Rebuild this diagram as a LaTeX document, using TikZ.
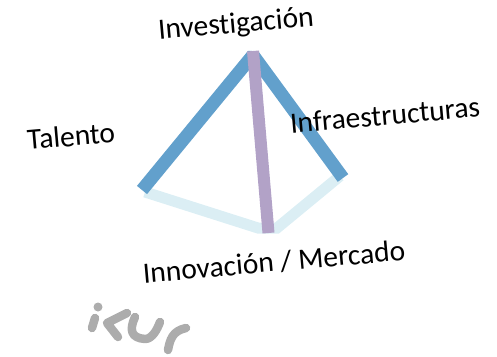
\documentclass[tikz,border=0pt]{standalone}
\usepackage{fontspec}
\setmainfont{Carlito}[Ligatures=NoCommon]
\tikzset{
  lbl/.style={font=\fontsize{29.5}{34}\selectfont,text=black,inner sep=0pt,anchor=center},
  bluebar/.style={line width=13pt,line join=bevel,draw={rgb,255:red,98;green,160;blue,204}},
  palebar/.style={line width=11pt,draw={rgb,255:red,219;green,238;blue,244},miter limit=10},
  purplebar/.style={line width=12pt,draw={rgb,255:red,178;green,162;blue,199}},
  logo/.style={line width=8.5pt,draw={rgb,255:red,172;green,172;blue,172},line cap=round,line join=round}
}
\begin{document}
\begin{tikzpicture}[x=1pt,y=-1pt]
\useasboundingbox (0,0) rectangle (497,356);
\coordinate (top) at (253,55);
\coordinate (ptop) at (253,51);
\coordinate (left) at (142,190);
\coordinate (right) at (343,178);
\coordinate (bot) at (268.5,233);
\draw[palebar] (145,192) -- (258,228) -- (277,228) -- (340,176);
\draw[bluebar] (left) -- (top) -- (right);
\draw[purplebar] (ptop) -- (bot);
\node[lbl,rotate=5] (inv) at (236,25) {Investigación};
\node[lbl,rotate=5] (tal) at (71,136) {Talento};
\node[lbl,rotate=5] (inf) at (385,115) {Infraestructuras};
\node[lbl,rotate=5] (mer) at (274,262) {Innovación / Mercado};
% logo
\fill[black!32] (98,307) circle (4.5);
\draw[logo] (95,318) -- (92,328);
\draw[logo] (127,313) -- (107,323) -- (118,337);
\draw[logo] (135,317) .. controls (129,330) and (131,338) .. (145,339) .. controls (152,339) and (157,330) .. (160,322);
\draw[logo] (168,350) .. controls (170,340) and (172,331) .. (186,328);
\end{tikzpicture}
\end{document}
